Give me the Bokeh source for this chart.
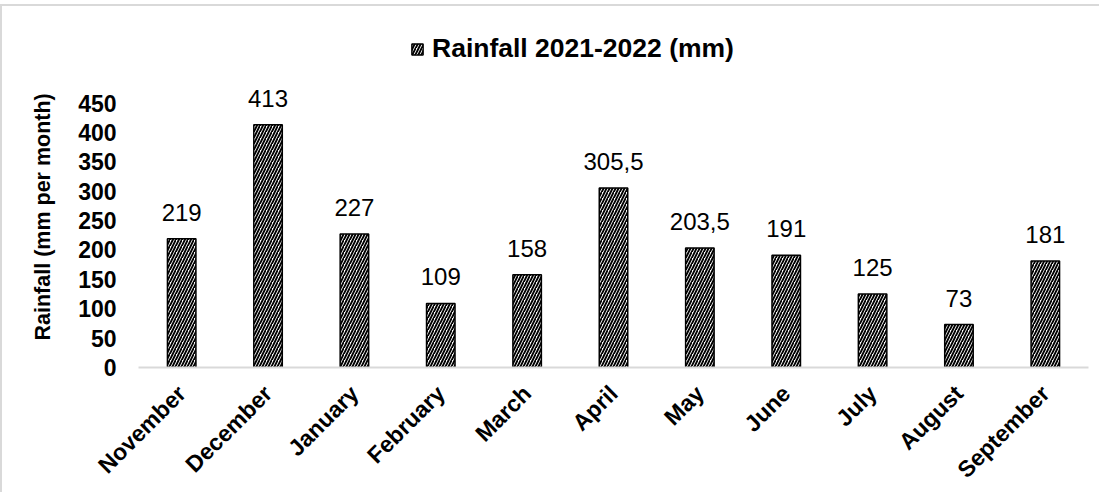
from math import pi
from bokeh.plotting import figure
from bokeh.models import (ColumnDataSource, Range1d, FixedTicker, LabelSet,
                          Legend, LegendItem, Title)
from bokeh.embed import file_html
from bokeh.resources import INLINE
from bokeh.core.properties import value

months = ["November", "December", "January", "February", "March", "April",
          "May", "June", "July", "August", "September"]
rainfall = [219, 413, 227, 109, 158, 305.5, 203.5, 191, 125, 73, 181]
y_ticks = [0, 50, 100, 150, 200, 250, 300, 350, 400, 450]
series_name = "Rainfall 2021-2022 (mm)"
y_title = "Rainfall (mm per month)"

labels = [f"{v:g}".replace(".", ",") for v in rainfall]
src = ColumnDataSource(dict(month=months, rain=rainfall, label=labels))

FONT = "Liberation Sans"

p = figure(x_range=months, y_range=Range1d(0, 570), width=1099, height=488,
           output_backend="svg", toolbar_location=None,
           min_border_left=136, min_border_right=13,
           min_border_top=26, min_border_bottom=122)
p.x_range.range_padding = 0
p.xgrid.visible = False
p.ygrid.visible = False
p.outline_line_color = None
p.background_fill_color = "white"
p.border_fill_color = "white"
p.styles = {"border-top": "2px solid #d9d9d9",
            "border-left": "2px solid #d9d9d9",
            "margin-top": "4px"}

r = p.vbar(x="month", top="rain", width=0.33, source=src,
           fill_color="white", line_color="black", line_width=1.5,
           hatch_pattern="/", hatch_color="black", hatch_scale=6,
           hatch_weight=1.9)

p.add_layout(LabelSet(x="month", y="rain", text="label", source=src,
                      y_offset=18, text_align="center",
                      text_baseline="alphabetic",
                      text_font=value(FONT), text_font_size="24px",
                      text_color="black"))

# y axis
ya = p.yaxis[0]
ya.ticker = FixedTicker(ticks=y_ticks)
ya.axis_line_color = None
ya.major_tick_line_color = None
ya.minor_tick_line_color = None
ya.major_label_text_font = FONT
ya.major_label_text_font_style = "bold"
ya.major_label_text_font_size = "23px"
ya.major_label_text_color = "black"
ya.major_label_standoff = 16

# y axis title, placed along the 0-450 span rather than the full frame
p.add_layout(Title(text=y_title, align="left", offset=27, standoff=42,
                   text_font=FONT, text_font_style="bold",
                   text_font_size="21.5px", text_color="black"), "left")

# x axis
xa = p.xaxis[0]
xa.axis_line_color = "#d9d9d9"
xa.axis_line_width = 2
xa.major_tick_line_color = None
xa.minor_tick_line_color = None
xa.major_label_orientation = pi / 4
xa.major_label_text_font = FONT
xa.major_label_text_font_style = "bold"
xa.major_label_text_font_size = "23px"
xa.major_label_text_color = "black"
xa.major_label_standoff = 16

legend = Legend(items=[LegendItem(label=series_name, renderers=[r])],
                location=(272, 303), orientation="horizontal",
                border_line_color=None, background_fill_alpha=0,
                label_text_font=FONT, label_text_font_style="bold",
                label_text_font_size="26.5px", label_text_color="black",
                glyph_width=14, glyph_height=14, padding=0, margin=0,
                label_standoff=8)
p.add_layout(legend)

open("out.html", "w").write(file_html(p, INLINE))
